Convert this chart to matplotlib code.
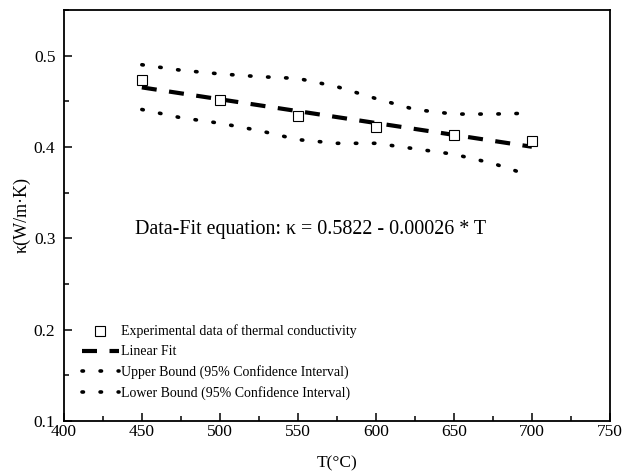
import matplotlib.pyplot as plt
from matplotlib.ticker import MultipleLocator

plt.rcParams['font.family'] = ['Liberation Serif', 'DejaVu Serif']

# measured data
temp = [450, 500, 550, 600, 650, 700]
kappa = [0.473, 0.451, 0.434, 0.422, 0.413, 0.407]

# linear fit: k = 0.5822 - 0.00026 * T
fit_a = 0.5822
fit_b = -0.00026
fit_t = [450, 700]

# 95% confidence bounds
bound_t = [450, 475, 500, 525, 550, 575, 600, 625, 650, 675, 700]
upper = [0.490, 0.484, 0.480, 0.477, 0.475, 0.466, 0.453, 0.441, 0.436, 0.436, 0.437]
lower = [0.441, 0.432, 0.426, 0.418, 0.408, 0.404, 0.404, 0.398, 0.392, 0.382, 0.368]


def draw_plot():
    fig = plt.figure(figsize=(6.32, 4.74), dpi=100)
    ax = fig.add_axes([0.101, 0.112, 0.864, 0.867])

    fit_k = [fit_a + fit_b * t for t in fit_t]

    ax.plot(temp, kappa, linestyle='none', marker='s', markersize=6.5,
            markerfacecolor='white', markeredgecolor='black', markeredgewidth=0.8,
            label='Experimental data of thermal conductivity', zorder=3)
    ax.plot(fit_t, fit_k, color='black', lw=3.0, linestyle=(0, (3.6, 3.0)),
            label='Linear Fit', zorder=2)
    ax.plot(bound_t, upper, color='black', lw=2.6, linestyle=(0, (0.4, 4.6)),
            dash_capstyle='round', label='Upper Bound (95% Confidence Interval)')
    ax.plot(bound_t, lower, color='black', lw=2.6, linestyle=(0, (0.4, 4.6)),
            dash_capstyle='round', label='Lower Bound (95% Confidence Interval)')

    ax.set_xlim(400, 750)
    ax.set_ylim(0.1, 0.55)
    ax.xaxis.set_major_locator(MultipleLocator(50))
    ax.xaxis.set_minor_locator(MultipleLocator(25))
    ax.yaxis.set_major_locator(MultipleLocator(0.1))
    ax.yaxis.set_minor_locator(MultipleLocator(0.05))
    ax.tick_params(which='both', direction='in', top=False, right=False, labelsize=12.5)
    ax.tick_params(which='major', length=5.5, width=1.1)
    ax.tick_params(which='minor', length=3.5, width=1.1)
    ax.tick_params(axis='y', which='major', pad=6)
    ax.tick_params(axis='x', which='major', pad=2.5)
    for sp in ax.spines.values():
        sp.set_linewidth(1.3)

    ax.set_xlabel('T(°C)', fontsize=12.5, labelpad=11)
    ax.set_ylabel('κ(W/m·K)', fontsize=13, labelpad=2)

    ax.text(0.452, 0.465, 'Data-Fit equation: κ = 0.5822 - 0.00026 * T',
            transform=ax.transAxes, ha='center', va='center', fontsize=14.4)

    ax.legend(loc='lower left', bbox_to_anchor=(0.01, 0.02), frameon=False,
              fontsize=10, handlelength=2.65, handletextpad=0.15, labelspacing=0.5)

    fig.savefig('out.png', dpi=100)
    plt.close(fig)


if __name__ == "__main__":
    draw_plot()
